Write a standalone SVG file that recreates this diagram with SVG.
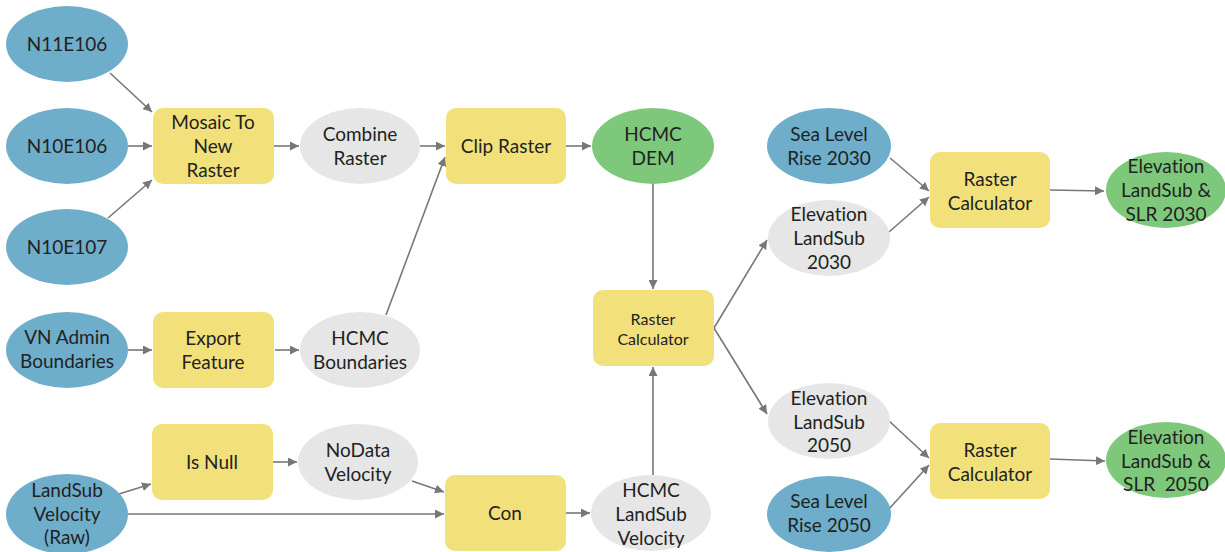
<svg xmlns="http://www.w3.org/2000/svg" width="1225" height="552" viewBox="0 0 1225 552">
<defs>
<marker id="ah" viewBox="0 0 10 10" refX="10" refY="5" markerWidth="9" markerHeight="9" markerUnits="userSpaceOnUse" orient="auto">
<path d="M0,0 L10,5 L0,10 z" fill="#777"/>
</marker>
<style>
.blue{fill:#6FAECB}
.yel{fill:#F2E17A}
.gray{fill:#E6E6E6}
.green{fill:#7DC87A}
text{font-family:Lato,"Open Sans","Liberation Sans",sans-serif;font-size:19px;fill:#222;text-anchor:middle;font-variant-ligatures:none}
.c line{stroke:#777;stroke-width:1.6;marker-end:url(#ah)}
</style>
</defs>
<rect width="1225" height="552" fill="#fff"/>
<g class="c" id="connectors">
<line x1="110" y1="73" x2="152" y2="112"/>
<line x1="128" y1="146" x2="152" y2="146"/>
<line x1="108" y1="218" x2="152" y2="180"/>
<line x1="274" y1="146" x2="299" y2="146"/>
<line x1="420" y1="146" x2="445" y2="146"/>
<line x1="386" y1="315" x2="445" y2="157"/>
<line x1="566" y1="146" x2="591" y2="146"/>
<line x1="653" y1="184" x2="653" y2="289"/>
<line x1="653" y1="475" x2="653" y2="367"/>
<line x1="714" y1="328" x2="767" y2="240"/>
<line x1="714" y1="328" x2="767" y2="414"/>
<line x1="890" y1="158" x2="929" y2="191"/>
<line x1="889" y1="232" x2="929" y2="197"/>
<line x1="1050" y1="190" x2="1104" y2="191"/>
<line x1="888" y1="420" x2="929" y2="458"/>
<line x1="888" y1="510" x2="929" y2="465"/>
<line x1="1050" y1="459" x2="1105" y2="461"/>
<line x1="128" y1="350" x2="152" y2="350"/>
<line x1="275" y1="350" x2="299" y2="350"/>
<line x1="119" y1="494" x2="151" y2="484"/>
<line x1="128" y1="514" x2="444" y2="514"/>
<line x1="273" y1="462" x2="297" y2="462"/>
<line x1="412" y1="481" x2="444" y2="492"/>
<line x1="566" y1="513" x2="590" y2="513"/>
</g>
<g id="n11e106"><ellipse class="blue" cx="67" cy="44" rx="61" ry="38"/><text x="67" y="51">N11E106</text></g>
<g id="n10e106"><ellipse class="blue" cx="67" cy="146" rx="61" ry="38"/><text x="67" y="153">N10E106</text></g>
<g id="n10e107"><ellipse class="blue" cx="67" cy="247" rx="61" ry="38"/><text x="67" y="254">N10E107</text></g>
<g id="vnadmin"><ellipse class="blue" cx="67" cy="350" rx="61" ry="38"/><text x="67" y="344">VN Admin</text><text x="67" y="368">Boundaries</text></g>
<g id="landsubraw"><ellipse class="blue" cx="67" cy="514" rx="61" ry="40"/><text x="67" y="497">LandSub</text><text x="67" y="521">Velocity</text><text x="67" y="544">(Raw)</text></g>
<g id="mosaic"><rect class="yel" x="153" y="108" width="121" height="76" rx="10"/><text x="213" y="129">Mosaic To</text><text x="213" y="153">New</text><text x="213" y="177">Raster</text></g>
<g id="combine"><ellipse class="gray" cx="360" cy="146" rx="60" ry="38"/><text x="360" y="141">Combine</text><text x="360" y="165">Raster</text></g>
<g id="clip"><rect class="yel" x="446" y="108" width="120" height="76" rx="10"/><text x="506" y="153">Clip Raster</text></g>
<g id="dem"><ellipse class="green" cx="653" cy="146" rx="61" ry="38"/><text x="653" y="141">HCMC</text><text x="653" y="165">DEM</text></g>
<g id="export"><rect class="yel" x="153" y="312" width="121" height="76" rx="10"/><text x="213" y="345">Export</text><text x="213" y="369">Feature</text></g>
<g id="boundaries"><ellipse class="gray" cx="360" cy="350" rx="60" ry="38"/><text x="360" y="345">HCMC</text><text x="360" y="369">Boundaries</text></g>
<g id="isnull"><rect class="yel" x="152" y="424" width="121" height="76" rx="10"/><text x="212" y="469">Is Null</text></g>
<g id="nodata"><ellipse class="gray" cx="358" cy="462" rx="60" ry="38"/><text x="358" y="457">NoData</text><text x="358" y="481">Velocity</text></g>
<g id="con"><rect class="yel" x="445" y="475" width="121" height="76" rx="10"/><text x="505" y="520">Con</text></g>
<g id="hcmclandsub"><ellipse class="gray" cx="651" cy="513" rx="60" ry="38"/><text x="651" y="497">HCMC</text><text x="651" y="521">LandSub</text><text x="651" y="545">Velocity</text></g>
<g id="rcmid"><rect class="yel" x="593" y="290" width="121" height="76" rx="10"/><text x="653" y="325" style="font-size:16px">Raster</text><text x="653" y="345" style="font-size:16px">Calculator</text></g>
<g id="slr2030"><ellipse class="blue" cx="829" cy="146" rx="62" ry="38"/><text x="829" y="141">Sea Level</text><text x="829" y="165">Rise 2030</text></g>
<g id="elev2030"><ellipse class="gray" cx="829" cy="238" rx="61" ry="38"/><text x="829" y="221">Elevation</text><text x="829" y="245">LandSub</text><text x="829" y="269">2030</text></g>
<g id="rctop"><rect class="yel" x="930" y="152" width="120" height="76" rx="10"/><text x="990" y="186">Raster</text><text x="990" y="210">Calculator</text></g>
<g id="out2030"><ellipse class="green" cx="1166" cy="190" rx="60" ry="38"/><text x="1166" y="173">Elevation</text><text x="1166" y="197">LandSub &amp;</text><text x="1166" y="221">SLR 2030</text></g>
<g id="elev2050"><ellipse class="gray" cx="829" cy="421" rx="61" ry="38"/><text x="829" y="405">Elevation</text><text x="829" y="429">LandSub</text><text x="829" y="452">2050</text></g>
<g id="slr2050"><ellipse class="blue" cx="829" cy="514" rx="62" ry="38"/><text x="829" y="508">Sea Level</text><text x="829" y="532">Rise 2050</text></g>
<g id="rcbot"><rect class="yel" x="930" y="423" width="120" height="76" rx="10"/><text x="990" y="457">Raster</text><text x="990" y="481">Calculator</text></g>
<g id="out2050"><ellipse class="green" cx="1166" cy="460" rx="60" ry="38"/><text x="1166" y="444">Elevation</text><text x="1166" y="468">LandSub &amp;</text><text x="1166" y="491" xml:space="preserve">SLR  2050</text></g>
</svg>
